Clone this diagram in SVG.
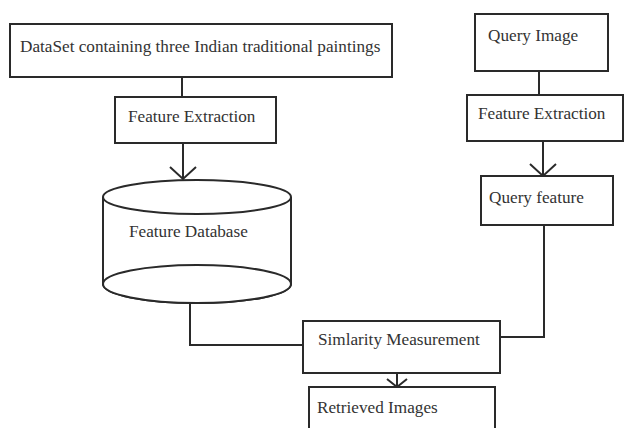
<svg xmlns="http://www.w3.org/2000/svg" width="626" height="428" viewBox="0 0 626 428">
<style>
.box{fill:#fff;stroke:#2a2a2a;stroke-width:2}
.ln{fill:none;stroke:#2a2a2a;stroke-width:2}
text{font-family:"Liberation Serif","Times New Roman",serif;font-size:17.2px;fill:#333}
</style>
<defs>
<marker id="v" viewBox="-14 -15 16 30" refX="0" refY="0" markerWidth="16" markerHeight="30" markerUnits="userSpaceOnUse" orient="auto">
<path d="M-12,-13 L0,0 L-12,13" fill="none" stroke="#2a2a2a" stroke-width="2"/>
</marker>
<marker id="vs" viewBox="-12 -12 14 24" refX="0" refY="0" markerWidth="14" markerHeight="24" markerUnits="userSpaceOnUse" orient="auto">
<path d="M-8,-10 L0,0 L-8,10" fill="none" stroke="#2a2a2a" stroke-width="2"/>
</marker>
</defs>
<rect width="626" height="428" fill="#fff"/>
<g id="connectors">
<line class="ln" x1="182" y1="77" x2="182" y2="97"/>
<line class="ln" x1="183" y1="143" x2="183" y2="179" marker-end="url(#v)"/>
<line class="ln" x1="539" y1="71" x2="539" y2="95"/>
<line class="ln" x1="543" y1="141" x2="543" y2="176" marker-end="url(#v)"/>
<polyline class="ln" points="190,302 190,345 303,345"/>
<polyline class="ln" points="544,225 544,337 500,337"/>
<line class="ln" x1="397" y1="373" x2="397" y2="387" marker-end="url(#vs)"/>
</g>
<g id="dataset">
<rect class="box" x="10" y="24" width="382" height="53"/>
<text x="20" y="52">DataSet containing three Indian traditional paintings</text>
</g>
<g id="feature-extraction-1">
<rect class="box" x="115" y="97" width="161" height="46"/>
<text x="128" y="122">Feature Extraction</text>
</g>
<g id="feature-database">
<path class="box" d="M103,197 L103,284 A94,19 0 0 0 291,284 L291,197"/>
<ellipse class="box" cx="197" cy="284" rx="94" ry="19"/>
<ellipse class="box" cx="197" cy="197" rx="94" ry="17"/>
<text x="129" y="237">Feature Database</text>
</g>
<g id="query-image">
<rect class="box" x="475" y="14" width="133" height="57"/>
<text x="488" y="41">Query Image</text>
</g>
<g id="feature-extraction-2">
<rect class="box" x="467" y="95" width="156" height="46"/>
<text x="478" y="119">Feature Extraction</text>
</g>
<g id="query-feature">
<rect class="box" x="481" y="176" width="132" height="49"/>
<text x="489" y="203">Query feature</text>
</g>
<g id="similarity">
<rect class="box" x="303" y="321" width="197" height="52"/>
<text x="318" y="345">Simlarity Measurement</text>
</g>
<g id="retrieved">
<rect class="box" x="309" y="387" width="186" height="50"/>
<text x="317" y="413">Retrieved Images</text>
</g>
</svg>
